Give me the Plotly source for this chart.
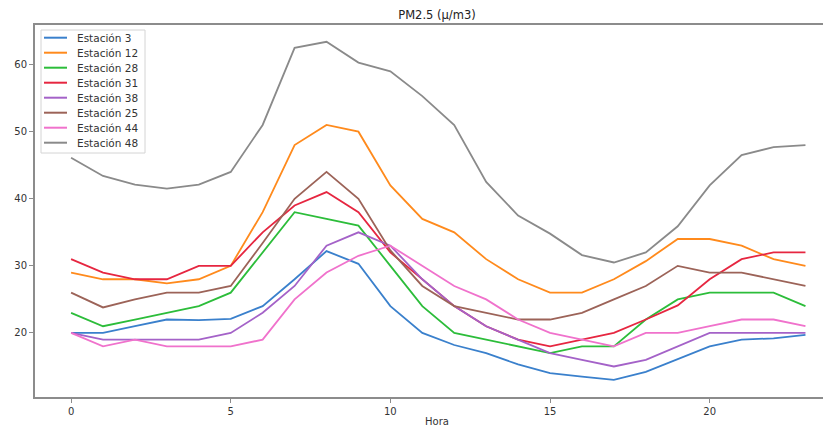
import plotly.graph_objects as go

horas = list(range(24))

est3 = [20, 20, 21, 22, 21.9, 22.1, 24, 28, 32.2, 30.3, 24, 20, 18.2, 17, 15.3, 14, 13.5, 13, 14.2, 16.1, 18, 19, 19.2, 19.7]
est12 = [29, 28, 28, 27.4, 28, 30, 38, 48, 51, 50, 42, 37, 35, 31, 28, 26, 26, 28, 30.7, 34, 34, 33, 31, 30]
est28 = [23, 21, 22, 23, 24, 26, 32, 38, 37, 36, 30, 24, 20, 19, 18, 17, 18, 18, 22, 25, 26, 26, 26, 24]
est31 = [31, 29, 28, 28, 30, 30, 35, 39, 41, 38, 32, 28, 24, 21, 19, 18, 19, 20, 22, 24.1, 28, 31, 32, 32]
est38 = [20, 19, 19, 19, 19, 20, 23, 27, 33, 35, 33, 28, 24, 21, 19, 17, 16, 15, 16, 18, 20, 20, 20, 20]
est25 = [26, 23.8, 25, 26, 26, 27, 33.4, 40, 44, 40, 32.3, 27, 24, 23, 22, 22, 23, 25, 27, 30, 29, 29, 28, 27]
est44 = [20, 18, 19, 18, 18, 18, 19, 25, 29, 31.5, 33, 30, 27, 25, 22, 20, 19, 18, 20, 20, 21, 22, 22, 21]
est48 = [46.1, 43.4, 42.1, 41.5, 42.1, 44, 51, 62.5, 63.4, 60.3, 59, 55.3, 51, 42.5, 37.5, 34.8, 31.6, 30.5, 32, 35.9, 42, 46.5, 47.7, 48]

nombres = ["Estación 3", "Estación 12", "Estación 28", "Estación 31",
           "Estación 38", "Estación 25", "Estación 44", "Estación 48"]
series = [est3, est12, est28, est31, est38, est25, est44, est48]
colores = ["#3a80cc", "#ff8a1c", "#2cbd3a", "#e62640",
           "#a462c8", "#9c6358", "#f072cc", "#8a8a8a"]

x_ticks = [0, 5, 10, 15, 20]
y_ticks = [20, 30, 40, 50, 60]

# the page body adds an 8px offset; figure is sized to end at the window edge
OFF = 8
W, H = 831 - OFF, 427 - OFF
# plot area in window pixels: x 35..831, y 25..397
ML, MR, MT, MB = 35 - OFF, 0, 25 - OFF, 427 - 397
PW, PH = W - ML - MR, H - MT - MB


def px(xw):
    return (xw - OFF - ML) / PW


def py(yw):
    return (H - MB - (yw - OFF)) / PH


fig = go.Figure()
for nombre, ys, c in zip(nombres, series, colores):
    fig.add_trace(go.Scatter(x=horas, y=ys, mode="lines", name=nombre,
                             line=dict(color=c, width=1.8), showlegend=False))

axis_color = "#8c8c8c"
font = dict(family="DejaVu Sans", size=10, color="#333333")

fig.update_layout(
    width=W, height=H,
    margin=dict(l=ML, r=MR, t=MT, b=MB, autoexpand=False),
    paper_bgcolor="white", plot_bgcolor="white",
    font=font,
    title=dict(text="PM2.5 (μ/m3)", x=(437 - OFF) / W, xref="container", xanchor="center",
               y=1 - (15 - OFF) / H, yref="container", yanchor="middle",
               font=dict(family="DejaVu Sans", size=11.5, color="#222222")),
    showlegend=False,
    xaxis=dict(range=[-1.13, 23.8], tickvals=x_ticks, showgrid=False, zeroline=False,
               showline=True, linecolor=axis_color, linewidth=2, mirror=True,
               ticks="outside", ticklen=4, tickcolor=axis_color, tickfont=font,
               automargin=False),
    yaxis=dict(range=[10.45, 65.9], tickvals=y_ticks, showgrid=False, zeroline=False,
               showline=True, linecolor=axis_color, linewidth=2, mirror=False,
               ticks="outside", ticklen=4, tickcolor=axis_color, tickfont=font,
               automargin=False),
)

# custom legend (matplotlib-like compact spacing)
shapes = [dict(type="rect", xref="paper", yref="paper",
               x0=px(41), x1=px(145), y0=py(30), y1=py(153),
               line=dict(color="#d4d4d4", width=1), fillcolor="rgba(255,255,255,0.85)",
               layer="above")]
annotations = []
for i, (nombre, c) in enumerate(zip(nombres, colores)):
    yc = 37.7 + 15 * i
    shapes.append(dict(type="line", xref="paper", yref="paper",
                       x0=px(44), x1=px(67), y0=py(yc), y1=py(yc),
                       line=dict(color=c, width=2), layer="above"))
    annotations.append(dict(text=nombre, x=px(75), y=py(yc), xref="paper", yref="paper",
                            xanchor="left", yanchor="middle", showarrow=False,
                            font=dict(family="DejaVu Sans", size=10.5, color="#333333")))

annotations.append(dict(text="Hora", x=px(437), xref="paper", y=py(421), yref="paper",
                        xanchor="center", yanchor="middle", showarrow=False,
                        font=dict(family="DejaVu Sans", size=10, color="#333333")))

fig.update_layout(shapes=shapes, annotations=annotations)

fig.write_html("out.html")
